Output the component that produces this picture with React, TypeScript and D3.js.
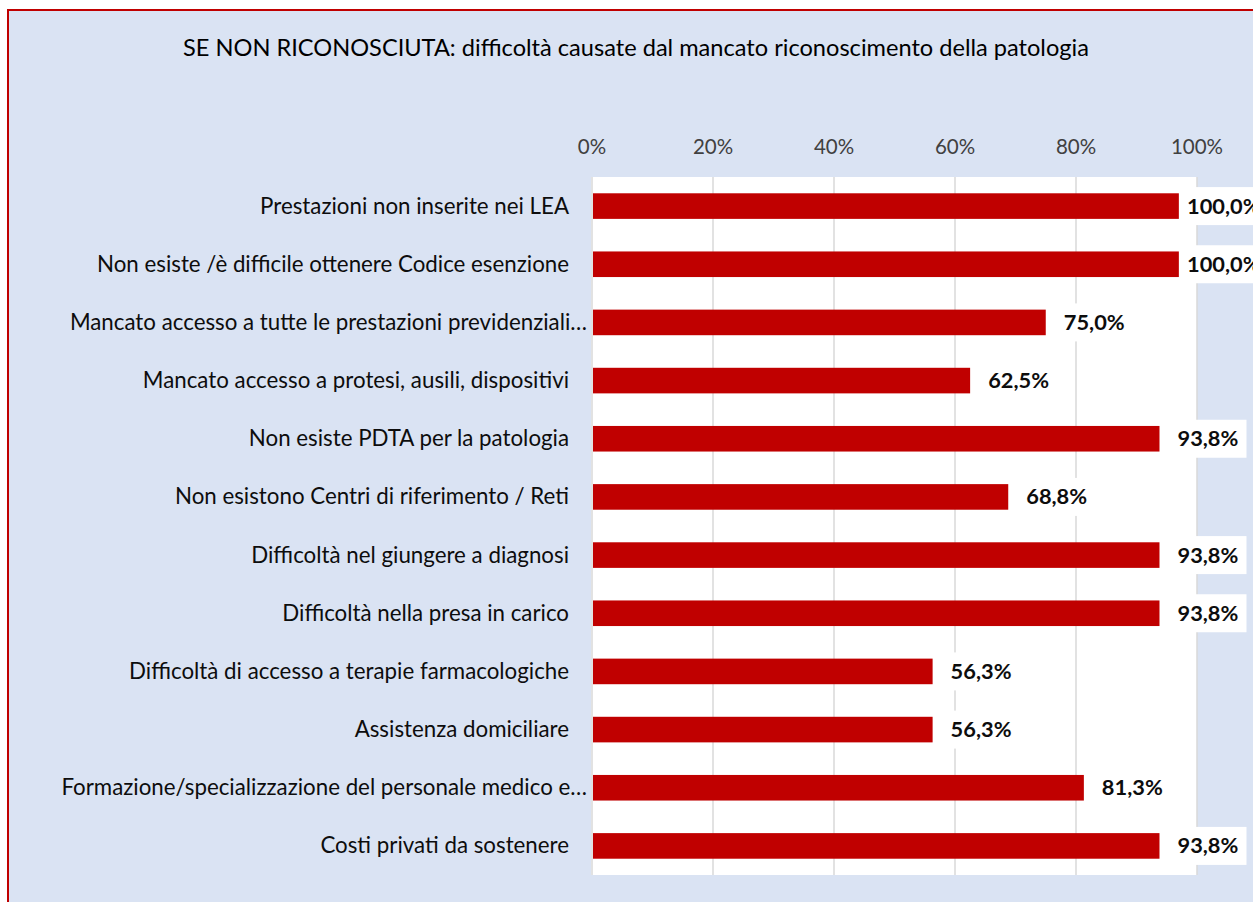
import React from "react";
import * as d3 from "d3";

const title = "SE NON RICONOSCIUTA: difficoltà causate dal mancato riconoscimento della patologia";

const categories = [
  "Prestazioni non inserite nei LEA",
  "Non esiste /è difficile ottenere Codice esenzione",
  "Mancato accesso a tutte le prestazioni previdenziali…",
  "Mancato accesso a protesi, ausili, dispositivi",
  "Non esiste PDTA per la patologia",
  "Non esistono Centri di riferimento / Reti",
  "Difficoltà nel giungere a diagnosi",
  "Difficoltà nella presa in carico",
  "Difficoltà di accesso a terapie farmacologiche",
  "Assistenza domiciliare",
  "Formazione/specializzazione del personale medico e…",
  "Costi privati da sostenere",
];

// bar lengths as drawn in the picture (percent)
const values = [97, 97, 75, 62.5, 93.8, 68.8, 93.8, 93.8, 56.3, 56.3, 81.3, 93.8];
const valueLabels = ["100,0%", "100,0%", "75,0%", "62,5%", "93,8%", "68,8%", "93,8%", "93,8%", "56,3%", "56,3%", "81,3%", "93,8%"];

const ticks = [0, 20, 40, 60, 80, 100];
const tickLabels = ["0%", "20%", "40%", "60%", "80%", "100%"];

const W = 1253;
const H = 902;
const FONT = "Lato, 'Open Sans', sans-serif";

export default function App() {
  const plotLeft = 592;
  const plotRight = 1197;
  const plotTop = 177;
  const plotBottom = 875;

  const x = d3.scaleLinear().domain([0, 100]).range([plotLeft, plotRight]);
  const y = d3
    .scaleBand<string>()
    .domain(categories)
    .range([plotTop, plotBottom])
    .paddingInner(0.56)
    .paddingOuter(0.28);

  const catSize = 22.3;
  const valSize = 21.8;
  const boxH = 38;

  return (
    <svg
      width={W}
      height={H}
      style={{ position: "absolute", left: 0, top: 0 }}
      fontFamily={FONT}
    >
      <rect x={8} y={10} width={1400} height={1000} fill="#DAE3F3" stroke="#C00000" strokeWidth={2} />
      <text x={636} y={56} textAnchor="middle" fontSize={23.6} fill="#000">
        {title}
      </text>

      {/* plot area */}
      <rect x={plotLeft - 1} y={plotTop} width={plotRight - plotLeft + 1} height={plotBottom - plotTop} fill="#FFFFFF" />

      {/* gridlines */}
      {ticks.map((t) => (
        <line
          key={"g" + t}
          x1={x(t)}
          x2={x(t)}
          y1={plotTop}
          y2={plotBottom}
          stroke="#D9D9D9"
          strokeWidth={1.5}
        />
      ))}

      {/* tick labels */}
      {ticks.map((t, i) => (
        <text key={"t" + t} x={x(t)} y={153.5} textAnchor="middle" fontSize={20.5} fill="#404040">
          {tickLabels[i]}
        </text>
      ))}

      {/* bars */}
      {categories.map((c, i) => (
        <rect
          key={"b" + i}
          x={x(0) + 1}
          y={y(c)!}
          width={x(values[i]) - x(0) - 1}
          height={y.bandwidth()}
          fill="#C00000"
        />
      ))}

      {/* category labels */}
      {categories.map((c, i) => (
        <text
          key={"c" + i}
          x={c.endsWith("…") ? 587 : 569}
          y={y(c)! + y.bandwidth() / 2 + 7.5}
          textAnchor="end"
          fontSize={catSize}
          fill="#0D0D0D"
        >
          {c}
        </text>
      ))}

      {/* value labels with white boxes */}
      {categories.map((c, i) => {
        const lx = Math.min(x(values[i]) + 18, 1187);
        const cy = y(c)! + y.bandwidth() / 2;
        const tw = valueLabels[i].length * 12.2;
        return (
          <g key={"v" + i}>
            <rect x={lx - 8} y={cy - boxH / 2} width={tw + 16} height={boxH} fill="#FFFFFF" />
            <text x={lx} y={cy + 7.5} fontSize={valSize} fontWeight="bold" fill="#0D0D0D">
              {valueLabels[i]}
            </text>
          </g>
        );
      })}
    </svg>
  );
}
